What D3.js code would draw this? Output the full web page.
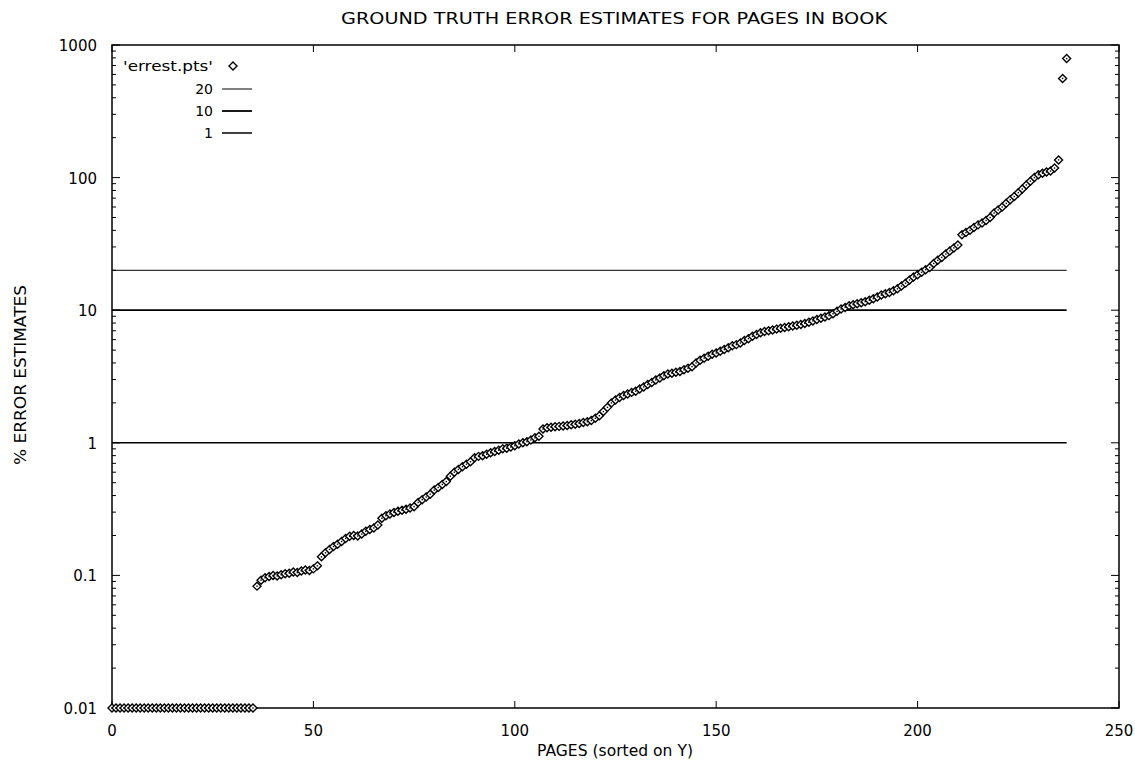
<!DOCTYPE html>
<html><head><meta charset="utf-8">
<script src="https://cdn.jsdelivr.net/npm/d3@7"></script>
<style>body{margin:0;background:#fff}</style>
</head><body>
<svg id="c" width="1135" height="766"></svg>
<script>
// errest.pts values, page index = position in array (sorted on Y)
const errest = [
0.01,0.01,0.01,0.01,0.01,0.01,0.01,0.01,0.01,0.01,0.01,0.01,
0.01,0.01,0.01,0.01,0.01,0.01,0.01,0.01,0.01,0.01,0.01,0.01,
0.01,0.01,0.01,0.01,0.01,0.01,0.01,0.01,0.01,0.01,0.01,0.01,
0.083,0.092,0.096,0.098,0.1,0.099,0.101,0.103,0.104,0.106,0.105,0.108,0.11,0.109,0.112,0.118,
0.138,0.148,0.157,0.165,0.172,0.18,0.19,0.197,0.2,0.198,
0.205,0.215,0.222,0.228,0.24,0.27,0.282,0.29,0.298,0.305,
0.31,0.315,0.322,0.33,0.355,0.372,0.39,0.41,0.44,0.46,
0.485,0.51,0.56,0.6,0.63,0.66,0.69,0.72,0.77,0.79,
0.8,0.82,0.84,0.86,0.88,0.9,0.91,0.93,0.95,0.98,
1.0,1.02,1.05,1.09,1.12,1.27,1.3,1.31,1.32,1.33,
1.34,1.35,1.37,1.38,1.4,1.42,1.44,1.47,1.53,1.6,
1.72,1.85,2.0,2.1,2.2,2.27,2.33,2.4,2.45,2.55,
2.64,2.75,2.85,2.98,3.08,3.2,3.3,3.35,3.4,3.45,
3.55,3.65,3.75,4.0,4.2,4.35,4.5,4.65,4.75,4.9,
5.05,5.2,5.4,5.5,5.65,5.9,6.1,6.35,6.55,6.75,
6.9,7.0,7.1,7.2,7.3,7.4,7.5,7.6,7.7,7.8,
7.95,8.1,8.3,8.5,8.7,8.9,9.1,9.4,9.8,10.2,
10.5,10.8,11.0,11.2,11.4,11.6,11.9,12.2,12.6,13.0,
13.3,13.6,14.0,14.5,15.2,16.0,16.9,17.8,18.5,19.3,
20.2,21.0,22.5,23.8,25.0,26.5,28.0,29.5,31.0,37.0,
38.5,40.0,42.0,44.0,45.5,47.5,50.0,54.0,57.0,60.0,
64.0,68.0,72.0,77.0,82.0,88.0,94.0,100.0,105.0,108.0,
110.0,112.0,118.0,136.0,
560,790
];
const refLines = [20, 10, 1];
const refWidths = [1, 1.8, 1.5];
const xTicks = [0, 50, 100, 150, 200, 250];
const yTicks = [0.01, 0.1, 1, 10, 100, 1000];
const yTickLabels = ["0.01", "0.1", "1", "10", "100", "1000"];
const legendLabels = ["'errest.pts'", "20", "10", "1"];

const svg = d3.select("#c");
const font = "'DejaVu Sans', sans-serif";
const L = 112, R = 1119, T = 45, B = 708;
const x = d3.scaleLinear().domain([0, 250]).range([L, R]);
const y = d3.scaleLog().domain([0.01, 1000]).range([B, T]);

// title
svg.append("text").attr("x", 614).attr("y", 24).attr("text-anchor", "middle")
  .attr("font-family", font).attr("font-size", 15)
  .attr("textLength", 546).attr("lengthAdjust", "spacingAndGlyphs")
  .text("GROUND TRUTH ERROR ESTIMATES FOR PAGES IN BOOK");

// minor ticks
const minor = [];
for (let e = -2; e < 3; e++) for (let m = 2; m <= 9; m++) minor.push(m * Math.pow(10, e));
const g = svg.append("g");
minor.forEach(v => {
  g.append("line").attr("x1", L).attr("x2", L + 4).attr("y1", y(v)).attr("y2", y(v)).attr("stroke", "#000");
  g.append("line").attr("x1", R).attr("x2", R - 4).attr("y1", y(v)).attr("y2", y(v)).attr("stroke", "#000");
});
yTicks.forEach((v, i) => {
  g.append("line").attr("x1", L).attr("x2", L + 8).attr("y1", y(v)).attr("y2", y(v)).attr("stroke", "#000");
  g.append("line").attr("x1", R).attr("x2", R - 8).attr("y1", y(v)).attr("y2", y(v)).attr("stroke", "#000");
  g.append("text").attr("x", 97).attr("y", y(v) + 6).attr("text-anchor", "end")
    .attr("font-family", font).attr("font-size", 15).text(yTickLabels[i]);
});
xTicks.forEach(v => {
  g.append("line").attr("x1", x(v)).attr("x2", x(v)).attr("y1", B).attr("y2", B - 7).attr("stroke", "#000");
  g.append("line").attr("x1", x(v)).attr("x2", x(v)).attr("y1", T).attr("y2", T + 7).attr("stroke", "#000");
  g.append("text").attr("x", x(v)).attr("y", 736).attr("text-anchor", "middle")
    .attr("font-family", font).attr("font-size", 15).text(v);
});

// axis titles
svg.append("text").attr("x", 615).attr("y", 756).attr("text-anchor", "middle")
  .attr("font-family", font).attr("font-size", 15)
  .attr("textLength", 156).attr("lengthAdjust", "spacingAndGlyphs")
  .text("PAGES (sorted on Y)");
svg.append("text").attr("transform", "translate(26,375) rotate(-90)").attr("text-anchor", "middle")
  .attr("font-family", font).attr("font-size", 15)
  .attr("textLength", 180).attr("lengthAdjust", "spacingAndGlyphs")
  .text("% ERROR ESTIMATES");

// reference lines
const xEnd = errest.length - 1;
refLines.forEach((v, i) => {
  svg.append("line").attr("x1", x(0)).attr("x2", x(xEnd)).attr("y1", y(v)).attr("y2", y(v))
    .attr("stroke", "#000").attr("stroke-width", refWidths[i]);
});

// frame
svg.append("rect").attr("x", L).attr("y", T).attr("width", R - L).attr("height", B - T)
  .attr("fill", "none").attr("stroke", "#000").attr("stroke-width", 1.5);

// points
const diamond = "M0,-4L4,0L0,4L-4,0Z";
svg.append("g").selectAll("path").data(errest).join("path")
  .attr("d", diamond)
  .attr("transform", (d, i) => `translate(${x(i)},${y(d)})`)
  .attr("fill", "#fff").attr("stroke", "#000").attr("stroke-width", 1.4);
svg.append("g").selectAll("rect").data(errest).join("rect")
  .attr("x", (d, i) => x(i) - 0.7).attr("y", d => y(d) - 0.7).attr("width", 1.4).attr("height", 1.4).attr("fill", "#000");

// legend
const ly = [66, 89, 111, 133];
legendLabels.forEach((t, i) => {
  const tx = svg.append("text").attr("x", 213).attr("y", ly[i] + 5).attr("text-anchor", "end")
    .attr("font-family", font).attr("font-size", 14).text(t);
  if (i === 0) {
    tx.attr("textLength", 90).attr("lengthAdjust", "spacingAndGlyphs");
    svg.append("path").attr("d", diamond).attr("transform", `translate(233,${ly[i]})`)
      .attr("fill", "#fff").attr("stroke", "#000").attr("stroke-width", 1.4);
  } else {
    svg.append("line").attr("x1", 222).attr("x2", 252).attr("y1", ly[i]).attr("y2", ly[i])
      .attr("stroke", "#000").attr("stroke-width", refWidths[i - 1]);
  }
});
</script>
</body></html>
